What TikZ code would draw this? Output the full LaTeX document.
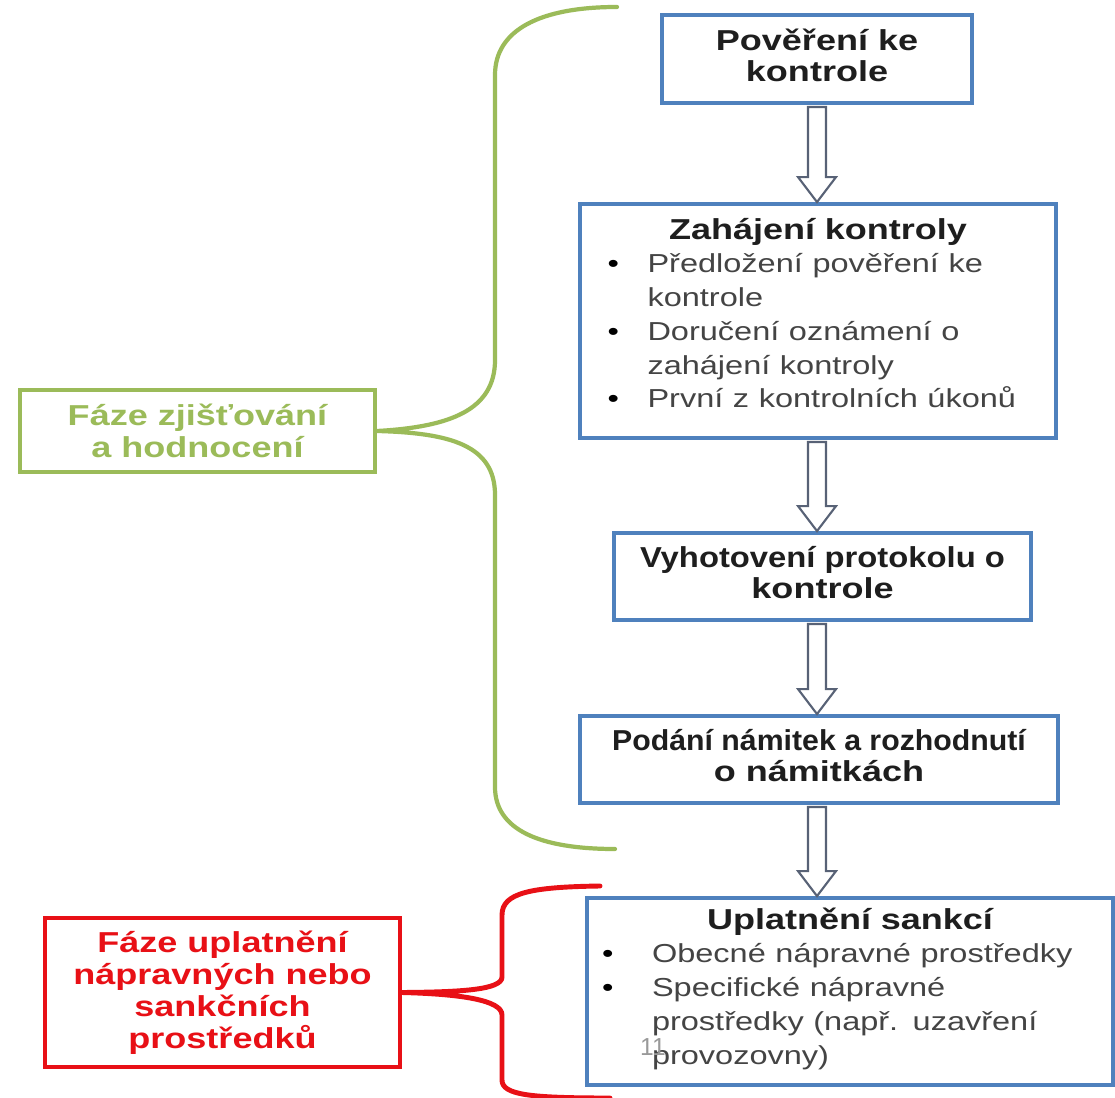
\documentclass[tikz,border=0pt]{standalone}
\usepackage{fontspec}
\usepackage{xcolor}
\usepackage{graphicx}
\usetikzlibrary{positioning,calc}
\setmainfont{Liberation Sans}[FakeStretch=1.25]
\newfontfamily\pagefont{Liberation Sans}
\definecolor{boxblue}{RGB}{79,129,189}
\definecolor{phasegreen}{RGB}{155,187,89}
\definecolor{phasered}{RGB}{232,16,22}
\definecolor{arrowgray}{RGB}{88,98,118}
\definecolor{itemgray}{RGB}{68,68,68}
\definecolor{titleblack}{RGB}{30,30,30}
\newcommand{\titlefont}{\fontsize{8.2}{8.8}\selectfont\bfseries}
\newcommand{\itemfont}{\fontsize{7.4}{9.6}\selectfont\mdseries}
\newcommand{\phasefont}{\fontsize{8.2}{9.1}\selectfont\bfseries}
\newcommand{\bitem}[2][0.4cm]{\par\noindent\itemfont\hangindent=#1\hangafter=1
  \makebox[#1][l]{\color{black}\textbullet}{\color{itemgray}#2}}

\begin{document}
\begin{tikzpicture}[
  stepbox/.style={draw=boxblue, line width=1.1pt, rectangle, inner sep=0pt,
    align=center, font=\titlefont, text=titleblack, text depth=0.08cm},
  listbox/.style={align=left, inner ysep=0pt, text depth=},
  phasebox/.style={rectangle, line width=1.2pt, inner sep=0pt, align=center, font=\phasefont},
  hollow/.style={draw=arrowgray, fill=white, line width=0.6pt,
    to path={let \p1=(\tikztostart), \p2=(\tikztotarget) in
      (\x1-0.09cm,\y1) -- (\x1-0.09cm,\y2+0.25cm) -- (\x1-0.19cm,\y2+0.25cm) -- (\x1,\y2)
      -- (\x1+0.19cm,\y2+0.25cm) -- (\x1+0.09cm,\y2+0.25cm) -- (\x1+0.09cm,\y1) -- cycle}},
  brace/.style={line width=1.2pt, line cap=round}]
\useasboundingbox (0,0) rectangle (11.15,-10.98);
\fill[white] (0,0) rectangle (11.15,-10.98);

% steps of the check
\node[stepbox, minimum width=3.10cm, minimum height=0.88cm] (pover) at (8.17,-0.59)
  {Pověření ke\\kontrole};
\node[stepbox, listbox, minimum height=2.34cm, text width=4.21cm, inner xsep=0.275cm]
  (zahajeni) at (8.18,-3.21)
  {{\centering Zahájení kontroly\par}
   \bitem{Předložení pověření ke\newline kontrole}
   \bitem{Doručení oznámení o\newline zahájení kontroly}
   \bitem{První z kontrolních úkonů}\par\vspace{0.16cm}};
\node[stepbox, minimum width=4.17cm, minimum height=0.87cm] (protokol) at (8.225,-5.765)
  {\scalebox{0.91}[1]{Vyhotovení protokolu o}\\kontrole};
\node[stepbox, minimum width=4.78cm, minimum height=0.87cm] (namitky) at (8.19,-7.595)
  {\scalebox{0.84}[1]{Podání námitek a rozhodnutí}\\o námitkách};
\node[stepbox, listbox, minimum height=1.87cm, text width=4.96cm, inner xsep=0.15cm]
  (sankce) at (8.50,-9.915)
  {{\centering Uplatnění sankcí\par}
   \bitem[0.5cm]{Obecné nápravné prostředky}
   \bitem[0.5cm]{Specifické nápravné\newline prostředky (např. uzavření\newline provozovny)}\par\vspace{0.06cm}};

% phases
\node[phasebox, draw=phasegreen, text=phasegreen, minimum width=3.55cm, minimum height=0.82cm]
  (zjist) at (1.975,-4.31) {Fáze zjišťování\\a hodnocení};
\node[phasebox, draw=phasered, text=phasered, minimum width=3.55cm, minimum height=1.49cm]
  (napravne) at (2.225,-9.925) {Fáze uplatnění\\nápravných nebo\\sankčních\\prostředků};

% arrows
\draw[hollow] ([yshift=-0.6pt]pover.south) to (zahajeni.north);
\draw[hollow] ([yshift=-0.6pt]zahajeni.south -| pover) to (protokol.north);
\draw[hollow] ([yshift=-0.6pt]protokol.south -| pover) to (namitky.north);
\draw[hollow] ([yshift=-0.6pt]namitky.south -| pover) to (sankce.north);

% braces
\draw[brace, phasegreen] (6.17,-0.07) .. controls (5.40,-0.07) and (4.95,-0.30) .. (4.95,-0.75)
  -- (4.95,-3.60) .. controls (4.95,-4.10) and (4.50,-4.27) .. (zjist.east)
  .. controls (4.50,-4.33) and (4.95,-4.45) .. (4.95,-4.95)
  -- (4.95,-7.87) .. controls (4.95,-8.30) and (5.40,-8.49) .. (6.15,-8.49);
\draw[brace, phasered, line width=1.4pt] (6.00,-8.86) .. controls (5.30,-8.87) and (5.02,-8.93) .. (5.02,-9.15)
  -- (5.02,-9.77) .. controls (5.02,-9.90) and (4.60,-9.92) .. (napravne.east)
  .. controls (4.60,-9.94) and (5.02,-10.00) .. (5.02,-10.15)
  -- (5.02,-10.80) .. controls (5.02,-10.95) and (5.30,-10.98) .. (6.10,-10.98);

\node[font=\pagefont\fontsize{7}{8}\selectfont, text=black!40, inner sep=0pt] (pagenum)
  at (6.53,-10.47) {11};
\end{tikzpicture}
\end{document}
